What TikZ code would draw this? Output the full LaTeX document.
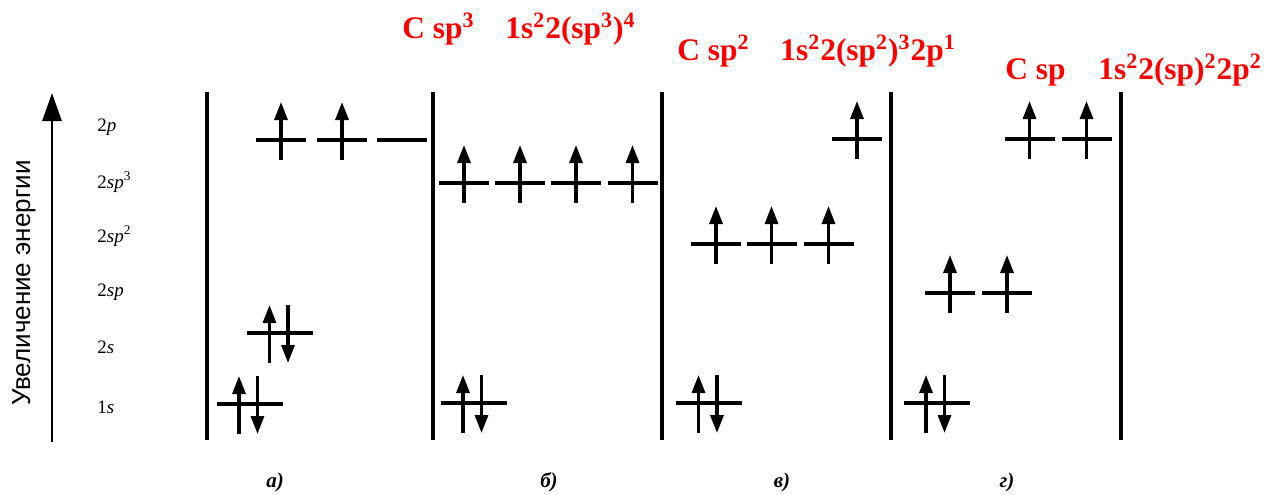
\documentclass[tikz,border=0pt]{standalone}
\usepackage{fontspec}
\setmainfont{Liberation Serif}
\newfontfamily\axisfont{Liberation Sans}
\usetikzlibrary{arrows.meta}
\tikzset{
  lvl/.style={line width=1.9pt},
  sepline/.style={line width=1.6pt},
  spin/.style={line width=1.6pt,-{Triangle[length=9pt,width=6.5pt]}},
  axis/.style={line width=1.4pt,-{Triangle[length=14pt,width=9.5pt]}},
  lvlname/.style={anchor=west,inner sep=0pt,font=\fontsize{9.5}{11}\selectfont},
  formula/.style={anchor=base west,inner sep=0pt,text=red,font=\fontsize{15.7}{19}\selectfont\bfseries},
  panel/.style={inner sep=0pt,font=\fontsize{10.5}{12}\selectfont\bfseries\itshape},
  half/.pic={\draw[lvl] (-25,0) -- (25,0); \draw[spin] (0,20) -- (0,-38);},
  full/.pic={\draw[lvl] (-33,0) -- (33,0);
             \draw[spin] (-10.5,30) -- (-10.5,-28);
             \draw[spin] (8,-28) -- (8,30);},
  empty/.pic={\draw[lvl] (-25,0) -- (25,0);}
}
\begin{document}
\begin{tikzpicture}[x=0.5pt,y=-0.5pt]
\useasboundingbox (0,0) rectangle (1264,494);
% energy axis
\coordinate (axbot) at (52,442);
\coordinate (axtop) at (52,93);
\draw[axis] (axbot) -- (axtop);
\node[rotate=90,inner sep=0pt,font=\axisfont\fontsize{13}{15}\selectfont] (axlabel) at (24,283) {Увеличение энергии};
% level names
\node[lvlname] (n2p) at (97,127) {2\textit{p}};
\node[lvlname] (n2sp3) at (97,182) {2\textit{sp}\textsuperscript{3}};
\node[lvlname] (n2sp2) at (97,236) {2\textit{sp}\textsuperscript{2}};
\node[lvlname] (n2sp) at (97,292) {2\textit{sp}};
\node[lvlname] (n2s) at (97,347) {2\textit{s}};
\node[lvlname] (n1s) at (97,407) {1\textit{s}};
% separators
\foreach \xx/\nm in {207/s1,433/s2,662/s3,891/s4,1121/s5}{
  \coordinate (\nm t) at (\xx,92);
  \coordinate (\nm b) at (\xx,440);
  \draw[sepline] (\nm t) -- (\nm b);
}
% panel a
\pic at (281,140) {half};
\pic at (342,140) {half};
\pic at (402,140) {empty};
\pic at (280,333) {full};
\pic at (249.5,404) {full};
% panel b
\pic at (464,183) {half};
\pic at (520,183) {half};
\pic at (576,183) {half};
\pic at (632.5,183) {half};
\pic at (473.5,403) {full};
% panel v
\pic at (857,139) {half};
\pic at (716,244) {half};
\pic at (771.5,244) {half};
\pic at (828.5,244) {half};
\pic at (709,403) {full};
% panel g
\pic at (1029.5,139) {half};
\pic at (1086.5,139) {half};
\pic at (950,293) {half};
\pic at (1007,293) {half};
\pic at (936.5,403) {full};
% red formulas
\node[formula] (f1a) at (402,38) {C sp\textsuperscript{3}};
\node[formula] (f1b) at (505,38) {1s\textsuperscript{2}2(sp\textsuperscript{3})\textsuperscript{4}};
\node[formula] (f2a) at (677,60) {C sp\textsuperscript{2}};
\node[formula] (f2b) at (780,60) {1s\textsuperscript{2}2(sp\textsuperscript{2})\textsuperscript{3}2p\textsuperscript{1}};
\node[formula] (f3a) at (1005,79) {C sp};
\node[formula] (f3b) at (1098,79) {1s\textsuperscript{2}2(sp)\textsuperscript{2}2p\textsuperscript{2}};
% panel labels
\node[panel] (pa) at (275,482) {а)};
\node[panel] (pb) at (549,482) {б)};
\node[panel] (pv) at (782,482) {в)};
\node[panel] (pg) at (1007,482) {г)};
\end{tikzpicture}
\end{document}
